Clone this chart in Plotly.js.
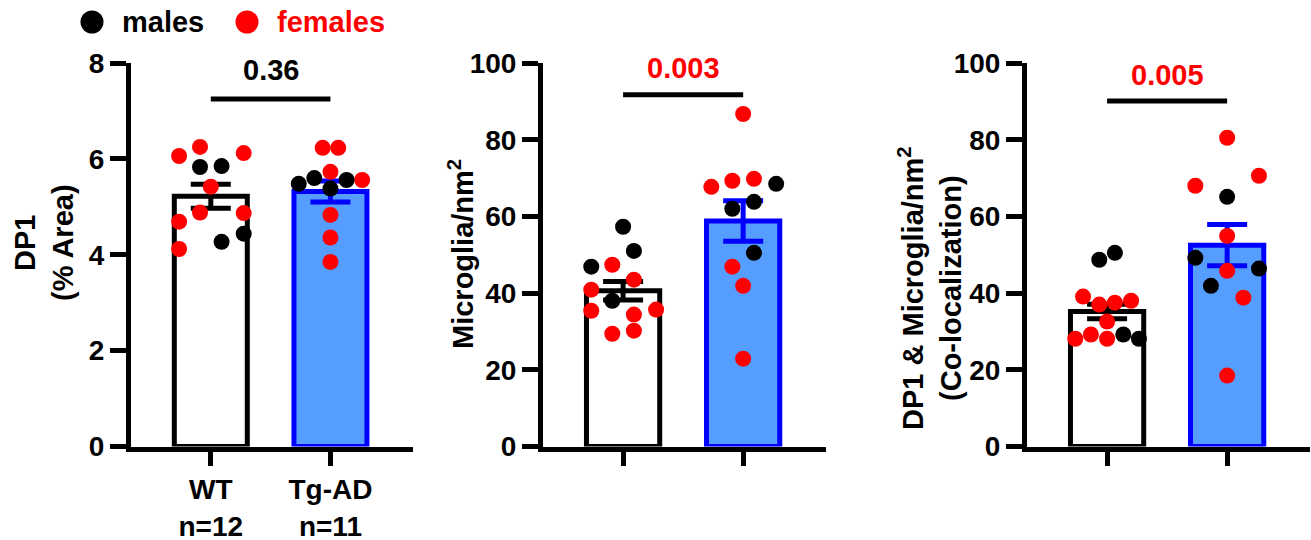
<!DOCTYPE html>
<html>
<head>
<meta charset="utf-8">
<script src="https://cdn.plot.ly/plotly-3.0.1.min.js"></script>
<style>html,body{margin:0;padding:0;background:#fff;}#chart{width:1311px;height:540px;}</style>
</head>
<body>
<div id="chart"></div>
<script>
// ---------- data ----------
const groups = ["WT", "Tg-AD"];
const groupLabels = ["WT<br>n=12", "Tg-AD<br>n=11"];
const panelTitles = [
  "DP1<br>(% Area)",
  "Microglia/nm<sup>2</sup>",
  "DP1 & Microglia/nm<sup>2</sup><br>(Co-localization)"
];
const pValues = ["0.36", "0.003", "0.005"];

// Panel 1: DP1 (% Area)
const p1Means = [5.22, 5.32];
const p1Sem = [0.25, 0.22];
const p1WtMales = [5.83, 5.85, 4.27, 4.44];
const p1WtFemales = [6.06, 6.25, 6.12, 5.42, 4.88, 4.87, 4.69, 4.12];
const p1TgMales = [5.48, 5.60, 5.56, 5.38];
const p1TgFemales = [6.23, 6.23, 5.73, 5.56, 4.83, 4.36, 3.85];

// Panel 2: Microglia/nm2
const p2Means = [40.6, 58.8];
const p2Sem = [2.4, 5.3];
const p2WtMales = [57.3, 51.0, 46.9, 38.0];
const p2WtFemales = [47.4, 43.5, 40.9, 35.4, 35.7, 34.4, 29.4, 30.2];
const p2TgMales = [68.5, 62.0, 63.8, 50.5];
const p2TgFemales = [86.7, 67.7, 69.3, 69.8, 46.9, 41.9, 22.9];

// Panel 3: DP1 & Microglia/nm2 (Co-localization)
const p3Means = [35.2, 52.5];
const p3Sem = [1.9, 5.4];
const p3WtMales = [48.7, 50.5, 29.2, 28.1];
const p3WtFemales = [39.1, 37.0, 37.5, 38.0, 32.6, 29.2, 28.1, 28.1];
const p3TgMales = [65.1, 49.2, 46.4, 41.9];
const p3TgFemales = [80.5, 70.6, 68.0, 54.9, 45.8, 38.8, 18.5];

// horizontal scatter offsets of the dots (fraction of category spacing)
const j1WtM = [-0.09, 0.09, 0.09, 0.275];
const j1WtF = [-0.265, -0.09, 0.275, 0, -0.09, 0.275, -0.265, -0.265];
const j1TgM = [-0.265, -0.135, 0.135, 0];
const j1TgF = [-0.065, 0.065, 0, 0.265, 0, 0, 0];
const j2WtM = [0, 0.09, -0.265, -0.09];
const j2WtF = [-0.09, 0.09, -0.265, -0.265, 0.275, 0.09, -0.09, 0.09];
const j2TgM = [0.275, -0.09, 0.09, 0.09];
const j2TgF = [0, -0.265, -0.09, 0.09, -0.09, 0, 0];
const j3WtM = [-0.065, 0.065, 0.135, 0.265];
const j3WtF = [-0.2, -0.065, 0.065, 0.2, 0, -0.135, -0.265, 0];
const j3TgM = [0, -0.265, 0.265, -0.135];
const j3TgF = [0, 0.265, -0.265, 0, 0, 0.135, 0];

// ---------- style ----------
const FONT = "Arial, 'Liberation Sans', sans-serif";
const FS = 28;
const BLUE = "#0000ff";
const FILL = "#559dff";
const RED = "#ff0000";

const panels = [
  {means: p1Means, sem: p1Sem, wm: p1WtMales, wf: p1WtFemales, tm: p1TgMales, tf: p1TgFemales,
   j: [j1WtM, j1WtF, j1TgM, j1TgF], range: [0, 8], dtick: 2, sigY: 7.25, txtY: 7.85, pcol: "#000",
   tx: 44, ty: 243},
  {means: p2Means, sem: p2Sem, wm: p2WtMales, wf: p2WtFemales, tm: p2TgMales, tf: p2TgFemales,
   j: [j2WtM, j2WtF, j2TgM, j2TgF], range: [0, 100], dtick: 20, sigY: 91.7, txtY: 98.6, pcol: RED,
   tx: 461, ty: 254},
  {means: p3Means, sem: p3Sem, wm: p3WtMales, wf: p3WtFemales, tm: p3TgMales, tf: p3TgFemales,
   j: [j3WtM, j3WtF, j3TgM, j3TgF], range: [0, 100], dtick: 20, sigY: 90.1, txtY: 96.9, pcol: RED,
   tx: 930, ty: 288}
];
const domains = [[131/1311, 413/1311], [543/1311, 826/1311], [1027/1311, 1310/1311]];
const yDomain = [93.5/540, 477/540];

const traces = [];
const layout = {
  width: 1311, height: 540,
  margin: {l: 0, r: 0, t: 0, b: 0},
  paper_bgcolor: "#fff", plot_bgcolor: "rgba(0,0,0,0)",
  showlegend: false,
  font: {family: FONT, size: FS, color: "#000", weight: "bold"},
  shapes: [], annotations: []
};

panels.forEach((p, i) => {
  const xa = i === 0 ? "x" : "x" + (i + 1);
  const ya = i === 0 ? "y" : "y" + (i + 1);
  const xk = i === 0 ? "xaxis" : "xaxis" + (i + 1);
  const yk = i === 0 ? "yaxis" : "yaxis" + (i + 1);

  // bars with SEM
  traces.push({type: "bar", x: [0], y: [p.means[0]], width: 0.61, xaxis: xa, yaxis: ya,
    marker: {color: "#ffffff", line: {color: "#000", width: 5}},
    error_y: {type: "data", array: [p.sem[0]], visible: true, color: "#000", thickness: 5, width: 20},
    hoverinfo: "skip"});
  traces.push({type: "bar", x: [1], y: [p.means[1]], width: 0.61, xaxis: xa, yaxis: ya,
    marker: {color: FILL, line: {color: BLUE, width: 5}},
    error_y: {type: "data", array: [p.sem[1]], visible: true, color: BLUE, thickness: 5, width: 20},
    hoverinfo: "skip"});

  // dots
  const sets = [[p.wf, p.j[1], 0, RED], [p.wm, p.j[0], 0, "#000"], [p.tf, p.j[3], 1, RED], [p.tm, p.j[2], 1, "#000"]];
  sets.forEach(s => {
    traces.push({type: "scatter", mode: "markers", xaxis: xa, yaxis: ya,
      x: s[0].map((v, k) => s[2] + s[1][k]), y: s[0], cliponaxis: false,
      marker: {size: 16, color: s[3], line: {width: 0}}, hoverinfo: "skip"});
  });

  layout[xk] = {domain: domains[i], anchor: ya, range: [-0.667, 1.69], fixedrange: true,
    showline: true, linewidth: 5, linecolor: "#000", showgrid: false, zeroline: false,
    ticks: "outside", ticklen: 14, tickwidth: 5, tickcolor: "#000",
    tickvals: [0, 1], ticktext: groupLabels, showticklabels: i === 0,
    tickfont: {family: FONT, size: FS, color: "#000", weight: "bold"}};
  layout[yk] = {domain: yDomain, anchor: xa, range: p.range, dtick: p.dtick, fixedrange: true,
    showline: true, linewidth: 5, linecolor: "#000", showgrid: false, zeroline: false,
    ticks: "outside", ticklen: 16, tickwidth: 5, tickcolor: "#000",
    tickfont: {family: FONT, size: FS, color: "#000", weight: "bold"}};

  // y-axis title (rotated)
  layout.annotations.push({xref: "paper", yref: "paper", x: p.tx / 1311, y: (540 - p.ty) / 540,
    xanchor: "center", yanchor: "middle", textangle: -90, showarrow: false,
    text: "<b>" + panelTitles[i] + "</b>", font: {family: FONT, size: 29, color: "#000"}});

  // significance bracket
  layout.shapes.push({type: "line", xref: xa, yref: ya, x0: 0, x1: 1, y0: p.sigY, y1: p.sigY,
    line: {color: "#000", width: 5}});
  layout.annotations.push({xref: xa, yref: ya, x: 0.5, y: p.txtY, text: "<b>" + pValues[i] + "</b>",
    showarrow: false, font: {family: FONT, size: 29, color: p.pcol}});
});

// legend (dots + labels)
const legendItems = [["males", "#000", 92, 120], ["females", RED, 247, 275]];
legendItems.forEach(it => {
  layout.shapes.push({type: "circle", xref: "paper", yref: "paper",
    xsizemode: "pixel", ysizemode: "pixel", xanchor: it[2] / 1311, yanchor: (540 - 22) / 540,
    x0: -11.5, x1: 11.5, y0: -11.5, y1: 11.5, fillcolor: it[1], line: {width: 0}});
  layout.annotations.push({xref: "paper", yref: "paper", x: it[3] / 1311, y: (540 - 22) / 540,
    xanchor: "left", yanchor: "middle", showarrow: false, text: "<b>" + it[0] + "</b>",
    font: {family: FONT, size: 29, color: it[1]}});
});

Plotly.newPlot("chart", traces, layout, {staticPlot: true, displayModeBar: false});
</script>
</body>
</html>
